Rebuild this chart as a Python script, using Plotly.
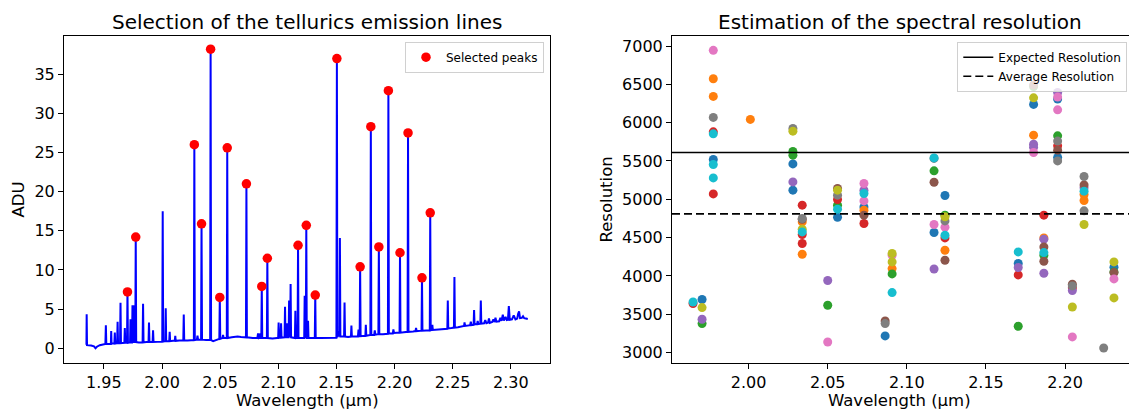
import plotly.graph_objects as go

# ---------------- Left panel: spectrum ----------------
SPEC_WL = [
    1.9350, 1.9352, 1.9355, 1.9390, 1.9415, 1.9428, 1.9440, 1.9465, 1.9495, 1.9513,
    1.9517, 1.9521, 1.9545, 1.9560, 1.9563, 1.9566, 1.9590, 1.9594, 1.9598, 1.9614,
    1.9618, 1.9622, 1.9639, 1.9643, 1.9647, 1.9676, 1.9680, 1.9684, 1.9699, 1.9703,
    1.9707, 1.9725, 1.9729, 1.9733, 1.9742, 1.9746, 1.9750, 1.9754, 1.9758, 1.9770,
    1.9774, 1.9778, 1.9800, 1.9833, 1.9837, 1.9841, 1.9865, 1.9884, 1.9888, 1.9892,
    1.9919, 1.9923, 1.9927, 1.9960, 2.0002, 2.0006, 2.0010, 2.0028, 2.0032, 2.0036,
    2.0062, 2.0066, 2.0070, 2.0095, 2.0110, 2.0114, 2.0118, 2.0150, 2.0183, 2.0187,
    2.0191, 2.0220, 2.0250, 2.0274, 2.0278, 2.0282, 2.0300, 2.0305, 2.0310, 2.0336,
    2.0340, 2.0344, 2.0380, 2.0414, 2.0418, 2.0422, 2.0440, 2.0493, 2.0497, 2.0501,
    2.0520, 2.0525, 2.0530, 2.0557, 2.0561, 2.0565, 2.0600, 2.0650, 2.0680, 2.0722,
    2.0726, 2.0730, 2.0780, 2.0820, 2.0826, 2.0832, 2.0840, 2.0845, 2.0850, 2.0854,
    2.0858, 2.0862, 2.0902, 2.0906, 2.0910, 2.0950, 2.0990, 2.0999, 2.1003, 2.1007,
    2.1020, 2.1024, 2.1028, 2.1054, 2.1058, 2.1062, 2.1071, 2.1075, 2.1079, 2.1089,
    2.1093, 2.1097, 2.1102, 2.1106, 2.1110, 2.1143, 2.1147, 2.1151, 2.1166, 2.1170,
    2.1174, 2.1200, 2.1223, 2.1227, 2.1231, 2.1237, 2.1241, 2.1245, 2.1252, 2.1256,
    2.1260, 2.1290, 2.1314, 2.1318, 2.1322, 2.1360, 2.1400, 2.1450, 2.1500, 2.1504,
    2.1508, 2.1515, 2.1526, 2.1530, 2.1534, 2.1566, 2.1570, 2.1574, 2.1600, 2.1625,
    2.1629, 2.1633, 2.1660, 2.1685, 2.1690, 2.1695, 2.1700, 2.1704, 2.1708, 2.1749,
    2.1753, 2.1757, 2.1792, 2.1796, 2.1800, 2.1825, 2.1830, 2.1835, 2.1861, 2.1865,
    2.1869, 2.1900, 2.1943, 2.1947, 2.1951, 2.1985, 2.1990, 2.1995, 2.2043, 2.2047,
    2.2051, 2.2080, 2.2112, 2.2116, 2.2120, 2.2160, 2.2180, 2.2185, 2.2190, 2.2232,
    2.2236, 2.2240, 2.2270, 2.2303, 2.2307, 2.2311, 2.2321, 2.2325, 2.2329, 2.2370,
    2.2410, 2.2454, 2.2458, 2.2462, 2.2490, 2.2511, 2.2515, 2.2519, 2.2545, 2.2570,
    2.2598, 2.2602, 2.2606, 2.2630, 2.2650, 2.2656, 2.2662, 2.2680, 2.2684, 2.2688,
    2.2710, 2.2715, 2.2720, 2.2738, 2.2742, 2.2746, 2.2770, 2.2780, 2.2790, 2.2805,
    2.2812, 2.2820, 2.2840, 2.2850, 2.2860, 2.2868, 2.2876, 2.2900, 2.2910, 2.2920,
    2.2931, 2.2940, 2.2955, 2.2965, 2.2975, 2.2983, 2.2991, 2.3010, 2.3025, 2.3040,
    2.3055, 2.3063, 2.3071, 2.3079, 2.3095, 2.3105, 2.3115, 2.3130, 2.3146,
]
SPEC_ADU = [
    0.45, 4.35, 0.40, 0.35, 0.25, 0.00, 0.20, 0.40, 0.50, 0.55,
    2.95, 0.55, 0.55, 0.55, 2.20, 0.60, 0.60, 2.00, 0.60, 0.65,
    3.40, 0.65, 0.65, 5.80, 0.65, 0.70, 2.60, 0.70, 0.70, 7.20,
    0.70, 0.75, 3.70, 0.75, 0.75, 5.50, 0.80, 5.50, 0.80, 0.80,
    14.20, 0.80, 0.75, 0.75, 5.70, 0.75, 0.80, 0.80, 3.30, 0.80,
    0.80, 2.30, 0.80, 0.85, 0.85, 17.50, 0.85, 0.90, 5.10, 0.90,
    0.90, 2.10, 0.90, 0.95, 0.95, 1.60, 0.95, 1.00, 1.00, 4.30,
    1.00, 1.00, 1.05, 1.05, 26.00, 1.05, 1.10, 1.60, 1.10, 1.10,
    15.90, 1.10, 1.05, 1.05, 38.20, 1.05, 0.90, 1.20, 6.50, 1.20,
    1.30, 1.70, 1.30, 1.30, 25.60, 1.30, 1.40, 1.50, 1.45, 1.40,
    21.00, 1.40, 1.30, 1.30, 1.90, 1.30, 1.35, 1.90, 1.30, 1.30,
    7.90, 1.30, 1.30, 11.50, 1.30, 1.25, 1.30, 1.30, 3.30, 1.35,
    1.35, 3.20, 1.35, 1.40, 5.30, 1.40, 1.40, 3.20, 1.40, 1.40,
    6.10, 1.40, 1.40, 8.20, 1.40, 1.30, 4.80, 1.30, 1.30, 13.15,
    1.30, 1.30, 1.30, 6.70, 1.30, 1.30, 15.70, 1.30, 1.30, 3.50,
    1.30, 1.30, 1.30, 6.80, 1.30, 1.30, 1.30, 1.35, 1.35, 37.00,
    1.40, 2.20, 1.50, 14.10, 1.50, 1.50, 5.85, 1.50, 1.45, 1.50,
    2.90, 1.50, 1.45, 1.50, 2.40, 1.45, 1.60, 10.40, 1.55, 1.60,
    3.00, 1.60, 1.70, 28.30, 1.70, 1.70, 2.30, 1.75, 1.80, 12.95,
    1.80, 1.80, 1.85, 32.90, 1.90, 1.90, 2.40, 1.95, 2.00, 12.20,
    2.00, 2.05, 2.10, 27.50, 2.10, 2.15, 2.20, 2.60, 2.20, 2.25,
    9.00, 2.25, 2.30, 2.30, 17.30, 2.30, 2.35, 3.00, 2.35, 2.40,
    2.45, 2.50, 6.10, 2.55, 2.60, 2.65, 9.10, 2.65, 2.70, 2.80,
    2.85, 3.30, 2.85, 2.90, 2.95, 3.40, 2.95, 3.00, 4.90, 3.05,
    3.10, 3.50, 3.10, 3.15, 6.10, 3.15, 3.20, 3.60, 3.20, 3.30,
    3.80, 3.25, 3.35, 3.70, 3.35, 3.90, 3.40, 3.45, 3.90, 3.50,
    4.30, 3.55, 4.00, 3.60, 3.65, 5.40, 3.65, 3.70, 4.20, 3.70,
    3.80, 4.40, 4.70, 3.85, 3.90, 4.10, 3.85, 3.80, 3.75,
]

PEAK_WL = [1.9703, 1.9774, 2.0278, 2.0340, 2.0418, 2.0497, 2.0561, 2.0726, 2.0858, 2.0906,
           2.1170, 2.1241, 2.1318, 2.1504, 2.1704, 2.1796, 2.1865, 2.1947, 2.2047, 2.2116,
           2.2236, 2.2307]
PEAK_ADU = [7.20, 14.20, 26.00, 15.90, 38.20, 6.50, 25.60, 21.00, 7.90, 11.50,
            13.15, 15.70, 6.80, 37.00, 10.40, 28.30, 12.95, 32.90, 12.20, 27.50,
            9.00, 17.30]

# ---------------- Right panel: resolution ----------------
EXPECTED_RES = 5610
AVERAGE_RES = 4810

BLUE_WL = [1.9706, 1.9777, 2.0280, 2.0280, 2.0562, 2.0729, 2.0863, 2.1172, 2.1241, 2.1704, 2.1801, 2.1953, 2.1953, 2.2309]
BLUE_R = [3692, 5520, 5462, 5119, 4766, 4901, 3217, 4567, 5050, 4162, 6238, 6307, 5546, 4114]

ORANGE_WL = [1.9777, 1.9777, 2.0011, 2.0339, 2.0339, 2.0729, 2.0907, 2.1241, 2.1801, 2.1866, 2.2120, 2.2120]
ORANGE_R = [6572, 6342, 6042, 4705, 4283, 4858, 4096, 4335, 5837, 4496, 5063, 4984]

GREEN_WL = [1.9706, 2.0280, 2.0280, 2.0500, 2.0562, 2.0907, 2.1172, 2.1241, 2.1704, 2.1801, 2.1866, 2.1953, 2.2309]
GREEN_R = [3378, 5624, 5576, 3617, 4923, 4026, 5371, 4793, 3343, 6470, 4270, 5828, 4052]

RED_WL = [1.9649, 1.9777, 1.9777, 2.0339, 2.0339, 2.0339, 2.0562, 2.0729, 2.1241, 2.1704, 2.1866, 2.1953, 2.2046]
RED_R = [3640, 5880, 5070, 4923, 4540, 4423, 4997, 4684, 4496, 4013, 4793, 5697, 3843]

PURPLE_WL = [1.9706, 2.0280, 2.0500, 2.0729, 2.1172, 2.1704, 2.1801, 2.1801, 2.1866, 2.1866, 2.1953, 2.2046, 2.2120]
PURPLE_R = [3435, 5227, 3940, 5119, 4091, 4110, 5719, 5680, 4035, 4480, 6394, 3809, 5149]

BROWN_WL = [2.0339, 2.0562, 2.0729, 2.0863, 2.1172, 2.1241, 2.1801, 2.1866, 2.1866, 2.1953, 2.2046, 2.2120, 2.2309]
BROWN_R = [4740, 5141, 4793, 3413, 5223, 4205, 6490, 4378, 4192, 5641, 3892, 5188, 4044]

PINK_WL = [1.9777, 2.0500, 2.0729, 2.0729, 2.0907, 2.1172, 2.1241, 2.1801, 2.1953, 2.1953, 2.2046, 2.2309]
PINK_R = [6943, 3138, 5206, 4979, 4270, 4671, 4636, 5611, 6333, 6167, 3204, 3961]

GRAY_WL = [1.9777, 2.0280, 2.0339, 2.0562, 2.0863, 2.1172, 2.1241, 2.1953, 2.1953, 2.2046, 2.2120, 2.2120, 2.2244]
GRAY_R = [6068, 5924, 4750, 5054, 3378, 5533, 4718, 5759, 5501, 3870, 5298, 4849, 3060]

OLIVE_WL = [1.9706, 2.0280, 2.0339, 2.0562, 2.0907, 2.0907, 2.1241, 2.1801, 2.2046, 2.2120, 2.2309, 2.2309]
OLIVE_R = [3587, 5889, 4610, 5119, 4292, 4183, 4771, 6324, 3595, 4671, 4183, 3713]

CYAN_WL = [1.9649, 1.9777, 1.9777, 1.9777, 2.0339, 2.0562, 2.0729, 2.0907, 2.1172, 2.1241, 2.1704, 2.1866, 2.2120]
CYAN_R = [3660, 5854, 5454, 5279, 4574, 4871, 5075, 3783, 5540, 4531, 4313, 4305, 5106]

SERIES = [
    (BLUE_WL, BLUE_R, "#1f77b4"),
    (ORANGE_WL, ORANGE_R, "#ff7f0e"),
    (GREEN_WL, GREEN_R, "#2ca02c"),
    (RED_WL, RED_R, "#d62728"),
    (PURPLE_WL, PURPLE_R, "#9467bd"),
    (BROWN_WL, BROWN_R, "#8c564b"),
    (PINK_WL, PINK_R, "#e377c2"),
    (GRAY_WL, GRAY_R, "#7f7f7f"),
    (OLIVE_WL, OLIVE_R, "#bcbd22"),
    (CYAN_WL, CYAN_R, "#17becf"),
]

LEFT_XTICKS = [1.95, 2.00, 2.05, 2.10, 2.15, 2.20, 2.25, 2.30]
LEFT_YTICKS = [0, 5, 10, 15, 20, 25, 30, 35]
RIGHT_XTICKS = [2.00, 2.05, 2.10, 2.15, 2.20]
RIGHT_YTICKS = [3000, 3500, 4000, 4500, 5000, 5500, 6000, 6500, 7000]

# ---------------- Figure ----------------
W, H = 1129, 412
FONT = "DejaVu Sans"

fig = go.Figure()
fig.add_trace(go.Scatter(x=SPEC_WL, y=SPEC_ADU, mode="lines",
                         line=dict(color="#0000ff", width=2),
                         xaxis="x", yaxis="y", showlegend=False, hoverinfo="skip"))
fig.add_trace(go.Scatter(x=PEAK_WL, y=PEAK_ADU, mode="markers",
                         marker=dict(color="#ff0000", size=9.5, line=dict(width=0)),
                         name="Selected peaks", xaxis="x", yaxis="y", legend="legend"))
for wl, r, c in SERIES:
    fig.add_trace(go.Scatter(x=wl, y=r, mode="markers",
                             marker=dict(color=c, size=9, line=dict(width=0)),
                             xaxis="x2", yaxis="y2", showlegend=False))

fig.add_shape(type="line", xref="x2 domain", x0=0, x1=1, yref="y2",
              y0=EXPECTED_RES, y1=EXPECTED_RES,
              line=dict(color="black", width=1.6),
              showlegend=True, name="Expected Resolution", legend="legend2")
fig.add_shape(type="line", xref="x2 domain", x0=0, x1=1, yref="y2",
              y0=AVERAGE_RES, y1=AVERAGE_RES,
              line=dict(color="black", width=1.6, dash="8px,4px"),
              showlegend=True, name="Average Resolution", legend="legend2")

def px_x(p):
    return p / W

def px_y(p):
    return 1 - p / H

ydom = [px_y(363), px_y(35.5)]
tickfont = dict(family=FONT, size=16, color="black")
common = dict(showline=True, linecolor="black", linewidth=1, ticks="outside",
              ticklen=5, tickwidth=1, tickcolor="black", showgrid=False,
              zeroline=False, tickfont=tickfont, automargin=False)

fig.update_layout(
    width=W, height=H,
    margin=dict(l=0, r=0, t=0, b=0, autoexpand=False),
    paper_bgcolor="white", plot_bgcolor="white",
    font=dict(family=FONT, color="black"),
    xaxis=dict(domain=[px_x(64), px_x(550)], range=[1.9157, 2.3337],
               tickvals=LEFT_XTICKS, tickformat=".2f", mirror=True,
               anchor="y", **common),
    yaxis=dict(domain=ydom, range=[-1.88, 39.95], tickvals=LEFT_YTICKS,
               mirror=True, anchor="x", **common),
    xaxis2=dict(domain=[px_x(672), 1.0], range=[1.9516, 2.2404],
                tickvals=RIGHT_XTICKS, tickformat=".2f", mirror=True,
                anchor="y2", **common),
    yaxis2=dict(domain=ydom, range=[2864, 7137], tickvals=RIGHT_YTICKS,
                mirror=False, anchor="x2", **common),
    legend=dict(x=px_x(544), y=px_y(41.7), xanchor="right", yanchor="top",
                bgcolor="rgba(255,255,255,0.8)", bordercolor="#d0d0d0", borderwidth=1,
                font=dict(family=FONT, size=12, color="black"),
                itemwidth=30),
    legend2=dict(x=px_x(1127.3), y=px_y(41.7), xanchor="right", yanchor="top",
                 bgcolor="rgba(255,255,255,0.8)", bordercolor="#d0d0d0", borderwidth=1,
                 font=dict(family=FONT, size=12, color="black"),
                 itemwidth=30, tracegroupgap=0),
)

annotations = [
    dict(text="Selection of the tellurics emission lines", x=px_x(307), y=px_y(21.5),
         font=dict(size=20, family=FONT, color="black")),
    dict(text="Estimation of the spectral resolution", x=px_x(899.5), y=px_y(21.5),
         font=dict(size=20, family=FONT, color="black")),
    dict(text="Wavelength (µm)", x=px_x(307), y=px_y(400.5),
         font=dict(size=16.5, family=FONT, color="black")),
    dict(text="Wavelength (µm)", x=px_x(899.5), y=px_y(400.5),
         font=dict(size=16.5, family=FONT, color="black")),
    dict(text="ADU", x=px_x(18), y=px_y(199.5), textangle=-90,
         font=dict(size=16.5, family=FONT, color="black")),
    dict(text="Resolution", x=px_x(606), y=px_y(199.5), textangle=-90,
         font=dict(size=16.5, family=FONT, color="black")),
]
for a in annotations:
    a.update(xref="paper", yref="paper", xanchor="center", yanchor="middle",
             showarrow=False)
fig.update_layout(annotations=annotations)

fig.write_html(
    "out.html",
    config={"displayModeBar": False},
    post_script="document.body.style.margin='0';document.body.style.overflow='hidden';",
)
